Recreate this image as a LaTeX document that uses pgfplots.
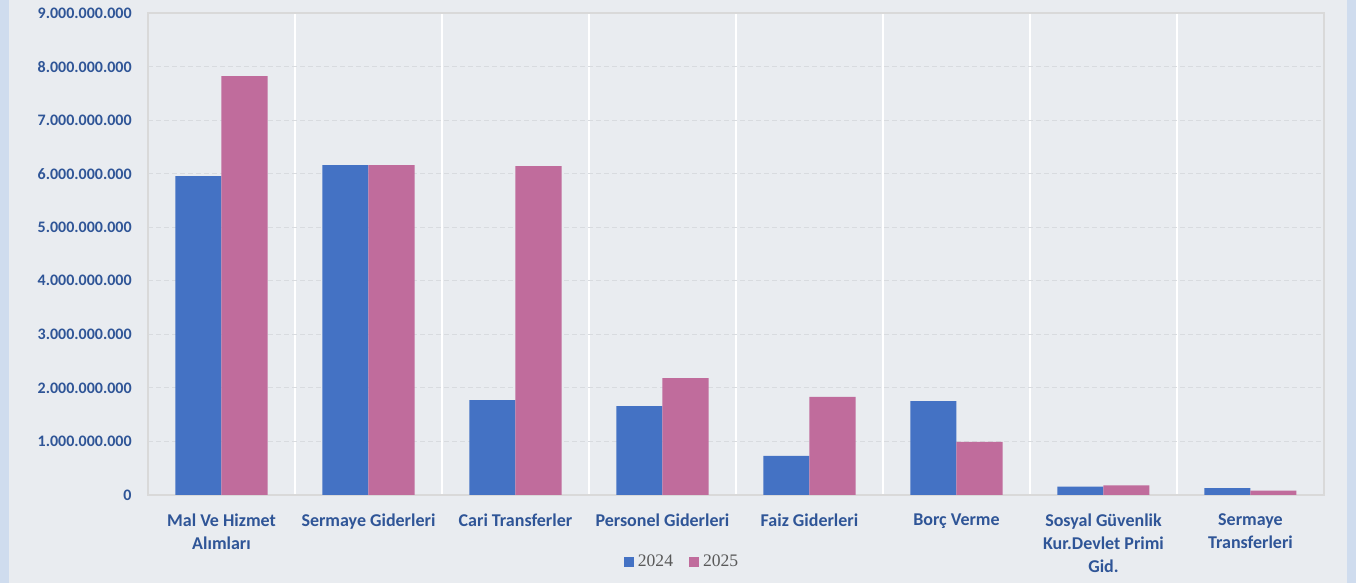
\documentclass[border=0pt]{standalone}
\usepackage{pgfplots}
\pgfplotsset{compat=1.18}
\usepackage{fontspec}
\setmainfont{Carlito}
\newfontfamily\legfont{Liberation Serif}
\definecolor{bg}{RGB}{233,236,240}
\definecolor{strip}{RGB}{207,220,238}
\definecolor{c24}{RGB}{68,114,196}
\definecolor{c25}{RGB}{192,108,156}
\definecolor{lab}{RGB}{47,85,151}
\definecolor{framec}{RGB}{217,217,217}
\definecolor{gridc}{RGB}{216,219,223}
\definecolor{legc}{RGB}{89,89,89}
\begin{document}
\begin{tikzpicture}
\fill[bg] (0,0) rectangle (678pt,291.5pt);
\fill[strip] (0,0) rectangle (4.5pt,291.5pt);
\fill[strip] (673.5pt,0) rectangle (678pt,291.5pt);
\path[use as bounding box] (0,0) rectangle (678pt,291.5pt);
\begin{axis}[
  at={(74pt,44pt)}, anchor=south west,
  scale only axis, width=588pt, height=241pt,
  xmin=-0.5, xmax=7.5, ymin=0, ymax=9e9,
  axis line style={framec, line width=0.6pt},
  xtick={0,1,2,3,4,5,6,7},
  xticklabels={{Mal Ve Hizmet\\Alımları},{Sermaye Giderleri},{Cari Transferler},{Personel Giderleri},{Faiz Giderleri},{Borç Verme},{Sosyal Güvenlik\\Kur.Devlet Primi\\Gid.},{Sermaye\\Transferleri}},
  ytick={0,1e9,2e9,3e9,4e9,5e9,6e9,7e9,8e9,9e9},
  yticklabels={0,1.000.000.000,2.000.000.000,3.000.000.000,4.000.000.000,5.000.000.000,6.000.000.000,7.000.000.000,8.000.000.000,9.000.000.000},
  major tick length=0pt, minor tick length=0pt,
  ymajorgrids, major grid style={gridc, dash pattern=on 2.5pt off 1.5pt, line width=0.5pt},
  minor xtick={0.5,1.5,2.5,3.5,4.5,5.5,6.5}, xminorgrids,
  minor grid style={white, line width=1pt},
  yticklabel style={font=\bfseries\fontsize{8}{9.6}\selectfont, text=lab, anchor=east, inner sep=0pt, xshift=-8pt},
  xticklabel style={font=\bfseries\fontsize{9}{11.5}\selectfont, text=lab, align=center, anchor=north, inner sep=0pt, yshift=-9pt},
  legend style={at={(0.455,-0.14)}, anchor=center, draw=none, fill=none,
    font=\legfont\fontsize{8.8}{10}\selectfont, text=legc,
    /tikz/every even column/.append style={column sep=6pt}},
  legend columns=2,
  legend image code/.code={\fill[#1] (0pt,-2.5pt) rectangle (5pt,2.5pt);},
]
\addplot[ybar, fill=c24, draw=none, bar width=0.313, bar shift=-0.1565] coordinates {
  (0,5.956e9) (1,6.16e9) (2,1.77e9) (3,1.66e9) (4,0.73e9) (5,1.755e9) (6,0.155e9) (7,0.13e9)};
\addlegendentry{2024}
\addplot[ybar, fill=c25, draw=none, bar width=0.313, bar shift=0.1565] coordinates {
  (0,7.82e9) (1,6.16e9) (2,6.14e9) (3,2.18e9) (4,1.83e9) (5,0.99e9) (6,0.18e9) (7,0.08e9)};
\addlegendentry{2025}
\end{axis}
\end{tikzpicture}
\end{document}
